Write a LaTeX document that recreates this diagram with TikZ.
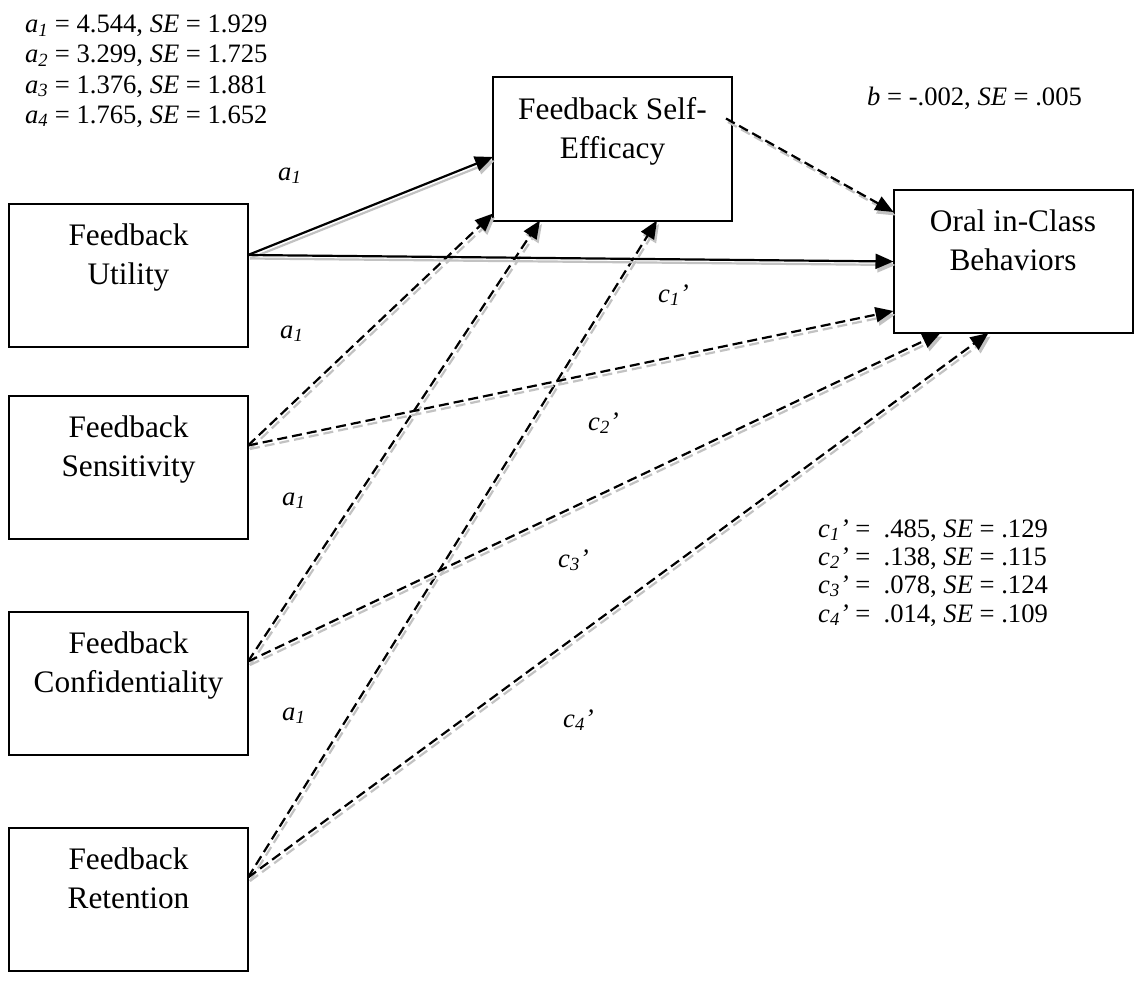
\documentclass[tikz,border=0pt]{standalone}
\usepackage{fontspec}
\setmainfont{Liberation Serif}
\usetikzlibrary{arrows.meta}
\definecolor{shadowgray}{gray}{0.76}
\begin{document}
\begin{tikzpicture}[x=1pt,y=-1pt,
  box/.style={draw, line width=2pt, minimum width=239pt, minimum height=143pt, inner sep=0pt, outer sep=0pt},
  boxtext/.style={font=\fontsize{31.3}{39}\selectfont, align=center, inner sep=0pt, anchor=north},
  stat/.style={font=\fontsize{26.6}{29}\selectfont, inner sep=0pt, anchor=base west},
  tip/.style={-{Triangle[length=18pt,width=15pt]}},
  link/.style={line width=2.2pt, tip,
     preaction={draw=shadowgray, line width=2.2pt, transform canvas={shift={(2pt,-3.5pt)}}}},
  dashedlink/.style={line width=2.2pt, tip, dash pattern=on 10pt off 5pt,
     preaction={draw=shadowgray, line width=2.2pt, dash pattern=on 10pt off 5pt,
                transform canvas={shift={(2pt,-3.5pt)}}}},
]
\useasboundingbox (0,0) rectangle (1136,982);

% predictor boxes
\node[box] (util) at (128.5,275) {};
\node[boxtext] (utilT) at ([yshift=-19.6pt]util.north) {Feedback\\Utility};
\node[box] (sens) at (128.5,467.5) {};
\node[boxtext] (sensT) at ([yshift=-19.6pt]sens.north) {Feedback\\Sensitivity};
\node[box] (conf) at (128.5,683.5) {};
\node[boxtext] (confT) at ([yshift=-19.6pt]conf.north) {Feedback\\Confidentiality};
\node[box] (ret) at (128.5,899.5) {};
\node[boxtext] (retT) at ([yshift=-19.6pt]ret.north) {Feedback\\Retention};

% mediator and outcome
\node[box] (se) at (612.5,149) {};
\node[boxtext] (seT) at ([yshift=-19.6pt]se.north) {Feedback Self-\\Efficacy};
\node[box] (oral) at (1013,261.5) {};
\node[boxtext] (oralT) at ([yshift=-19.6pt]oral.north) {Oral in-Class\\Behaviors};

% a paths
\draw[link] ([yshift=20pt]util.east) -- ([yshift=-8pt]se.west);
\draw[dashedlink] ([yshift=22pt]sens.east) -- ([yshift=7pt]se.south west);
\draw[dashedlink] ([yshift=22pt]conf.east) -- ([xshift=47pt]se.south west);
\draw[dashedlink] ([yshift=22pt]ret.east) -- ([xshift=164pt]se.south west);

% b path
\draw[dashedlink] ([xshift=-6pt,yshift=-41pt]se.north east) -- ([yshift=-22pt]oral.north west);

% c' paths
\draw[link] ([yshift=20pt]util.east) -- (oral.west);
\draw[dashedlink] ([yshift=22pt]sens.east) -- ([yshift=22pt]oral.south west);
\draw[dashedlink] ([yshift=22pt]conf.east) -- ([xshift=47pt]oral.south west);
\draw[dashedlink] ([yshift=22pt]ret.east) -- ([xshift=95pt]oral.south west);

% coefficient summaries
\node[stat] (sa1) at (25,33) {\textit{a\textsubscript{1}} = 4.544, \textit{SE} = 1.929};
\node[stat] (sa2) at (25,63) {\textit{a\textsubscript{2}} = 3.299, \textit{SE} = 1.725};
\node[stat] (sa3) at (25,93) {\textit{a\textsubscript{3}} = 1.376, \textit{SE} = 1.881};
\node[stat] (sa4) at (25,123) {\textit{a\textsubscript{4}} = 1.765, \textit{SE} = 1.652};
\node[stat] (sb) at (867,106) {\textit{b} = -.002, \textit{SE} = .005};
\node[stat] (sc1) at (818,537) {\textit{c\textsubscript{1}’} =\ \ .485, \textit{SE} = .129};
\node[stat] (sc2) at (818,565) {\textit{c\textsubscript{2}’} =\ \ .138, \textit{SE} = .115};
\node[stat] (sc3) at (818,593) {\textit{c\textsubscript{3}’} =\ \ .078, \textit{SE} = .124};
\node[stat] (sc4) at (818,622) {\textit{c\textsubscript{4}’} =\ \ .014, \textit{SE} = .109};

% path labels
\node[stat] (la1) at (278,180) {\textit{a\textsubscript{1}}};
\node[stat] (la2) at (280,338) {\textit{a\textsubscript{1}}};
\node[stat] (la3) at (282,505) {\textit{a\textsubscript{1}}};
\node[stat] (la4) at (282,720) {\textit{a\textsubscript{1}}};
\node[stat] (lc1) at (658,302) {\textit{c\textsubscript{1}’}};
\node[stat] (lc2) at (588,430) {\textit{c\textsubscript{2}’}};
\node[stat] (lc3) at (558,567) {\textit{c\textsubscript{3}’}};
\node[stat] (lc4) at (563,727) {\textit{c\textsubscript{4}’}};
\end{tikzpicture}
\end{document}
